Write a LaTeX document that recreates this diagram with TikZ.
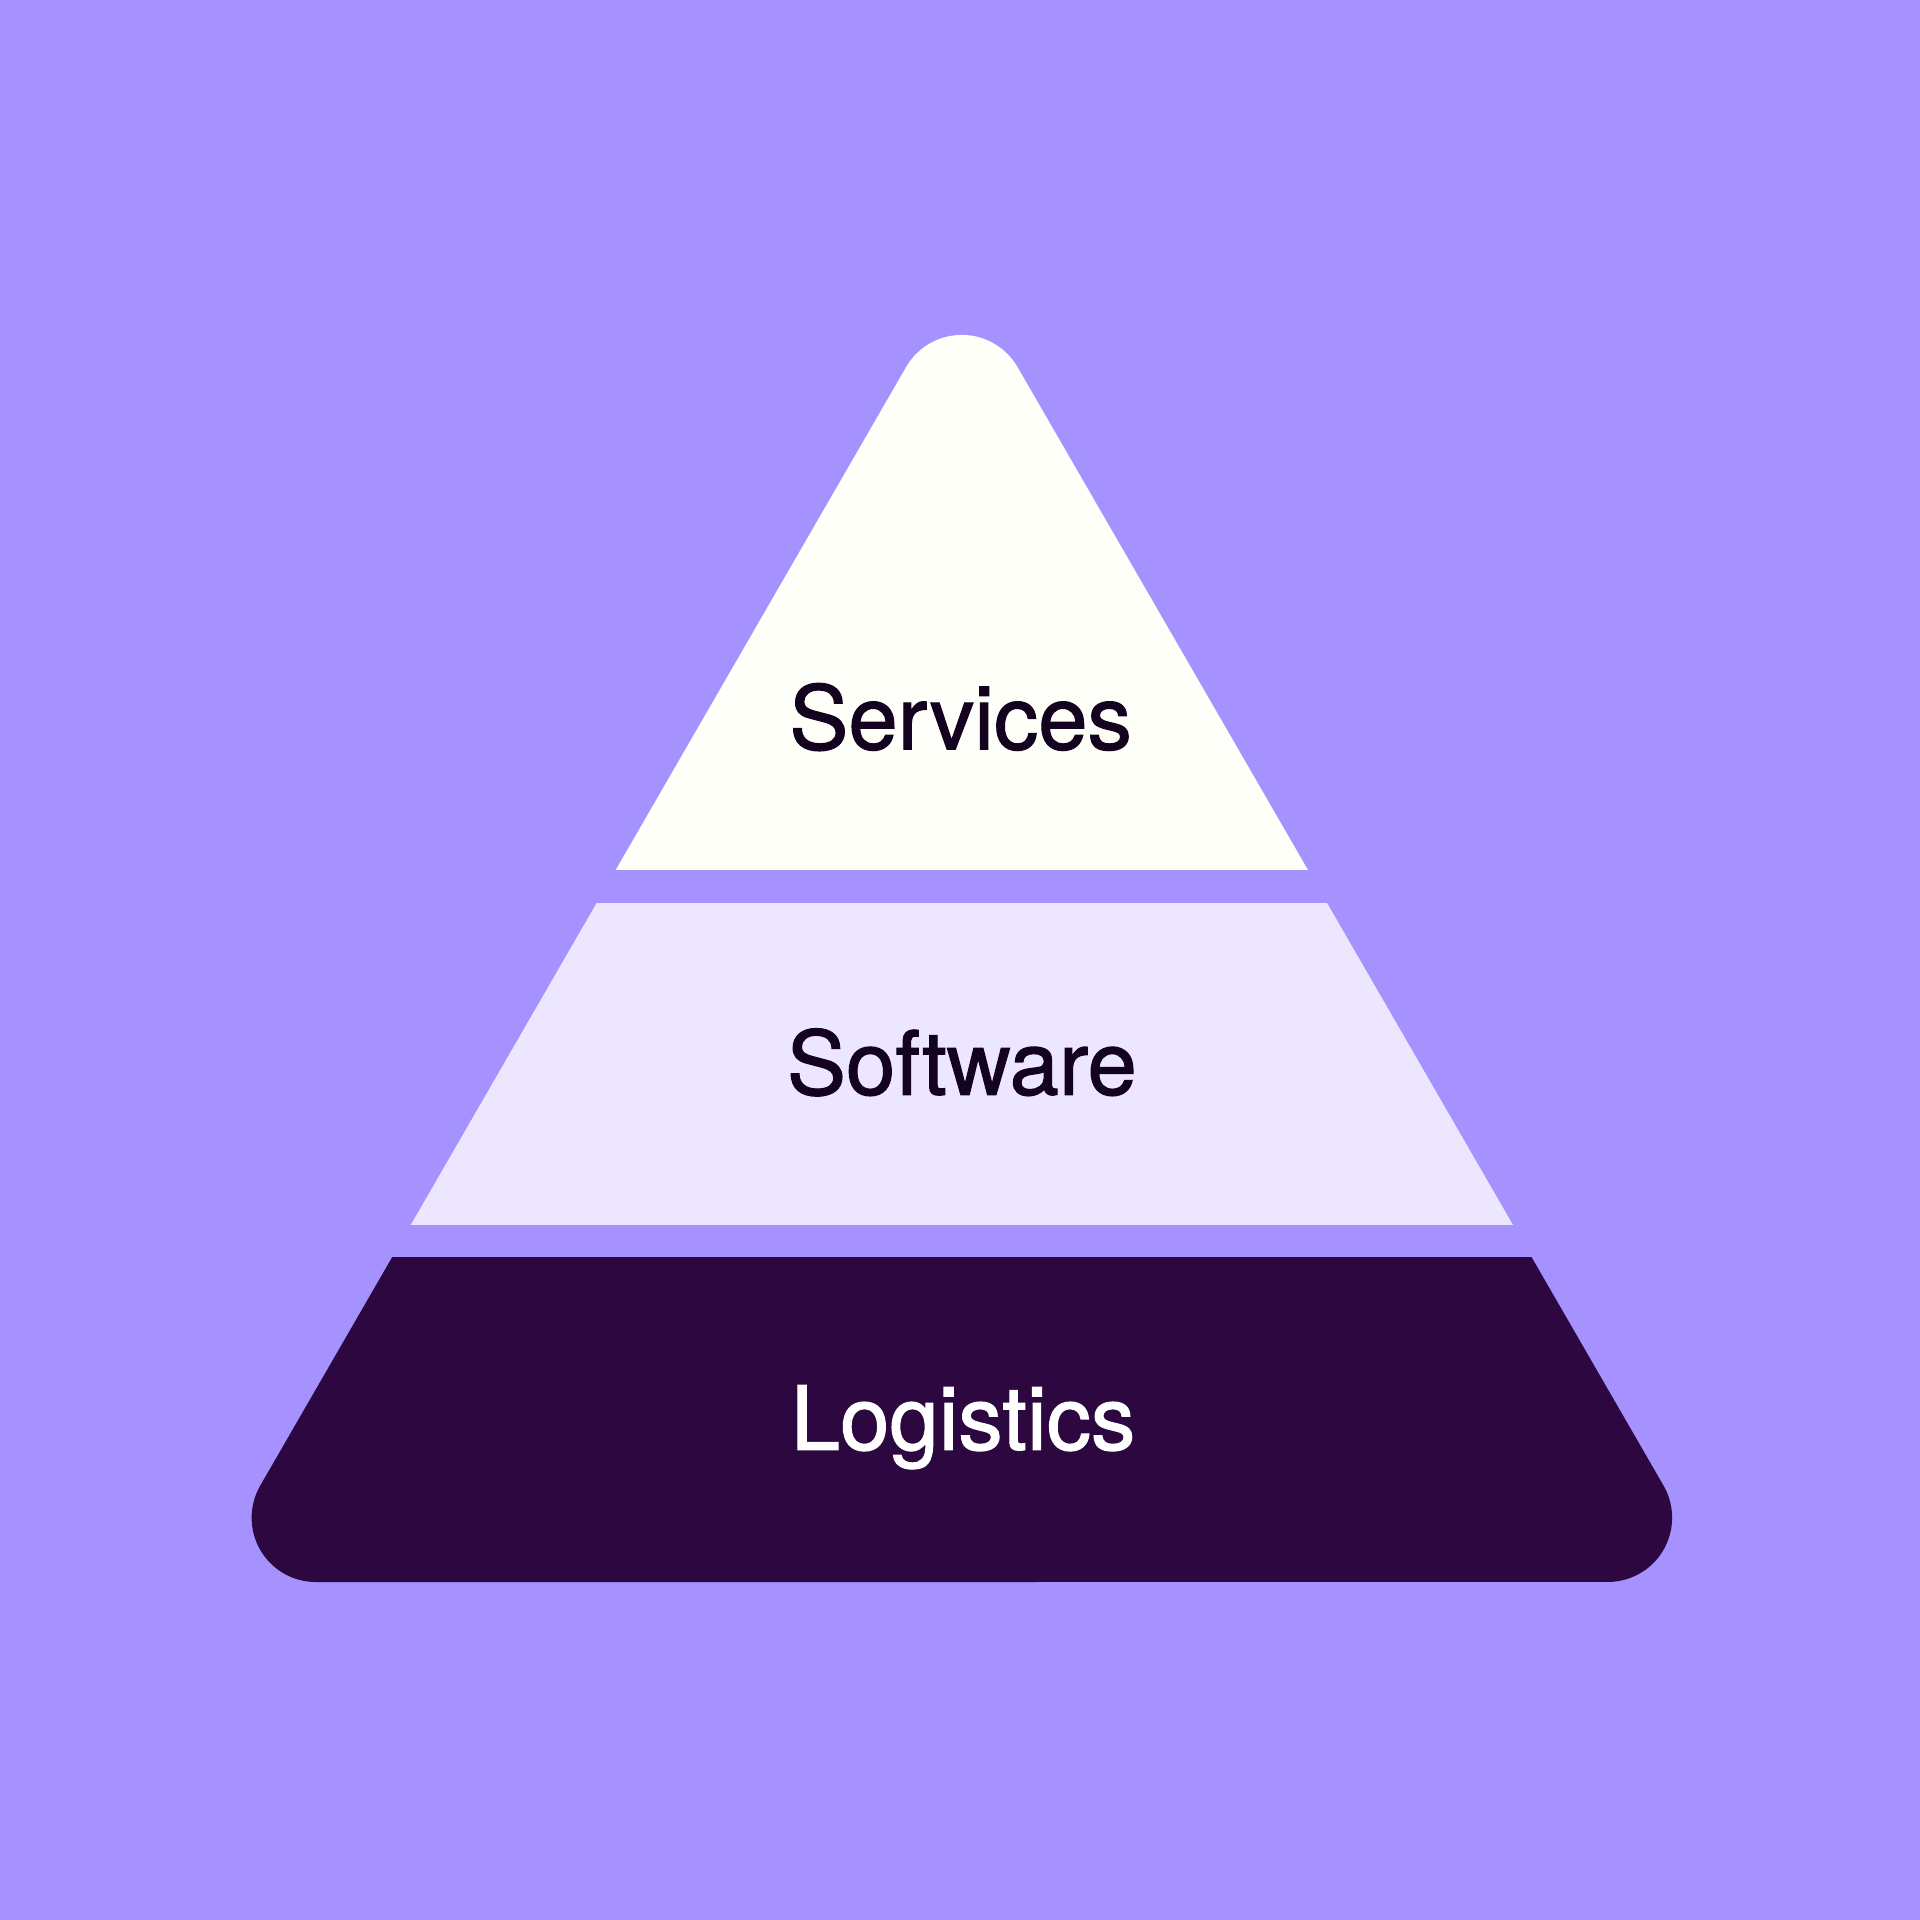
\documentclass[tikz,border=0pt]{standalone}
\usepackage{fontspec}
\setmainfont{TeX Gyre Heros}
\newfontfamily\tierfont[FakeBold=1.3]{TeX Gyre Heros}
\definecolor{bgviolet}{HTML}{A592FF}
\definecolor{tiertop}{HTML}{FDFFF8}
\definecolor{tiermid}{HTML}{ECE6FF}
\definecolor{tierlow}{HTML}{2D0740}
\definecolor{inkdark}{HTML}{13031F}
\tikzset{
  tierlabel/.style={anchor=base,font=\tierfont\fontsize{20.6}{24}\selectfont},
}
\newcommand\pyramidpath{(7.40,12.682) arc (150:30:0.525) -- (13.585,3.548)
  arc (30:-90:0.525) -- (2.58,2.76) arc (270:150:0.525) -- cycle}
\begin{document}
\begin{tikzpicture}
\fill[bgviolet] (0,0) rectangle (15.68,15.68);
\useasboundingbox (0,0) rectangle (15.68,15.68);
% top tier
\begin{scope}
\clip (0,8.58) rectangle (15.68,15.68);
\fill[tiertop] \pyramidpath;
\end{scope}
% middle tier
\begin{scope}
\clip (0,5.68) rectangle (15.68,8.30);
\fill[tiermid] \pyramidpath;
\end{scope}
% bottom tier
\begin{scope}
\clip (0,0) rectangle (15.68,5.41);
\fill[tierlow] \pyramidpath;
\end{scope}
\node[tierlabel,text=inkdark] (services) at (7.845,9.56) {Services};
\node[tierlabel,text=inkdark] (software) at (7.855,6.74) {Software};
\node[tierlabel,text=white] (logistics) at (7.865,3.84) {Logistics};
\end{tikzpicture}
\end{document}
